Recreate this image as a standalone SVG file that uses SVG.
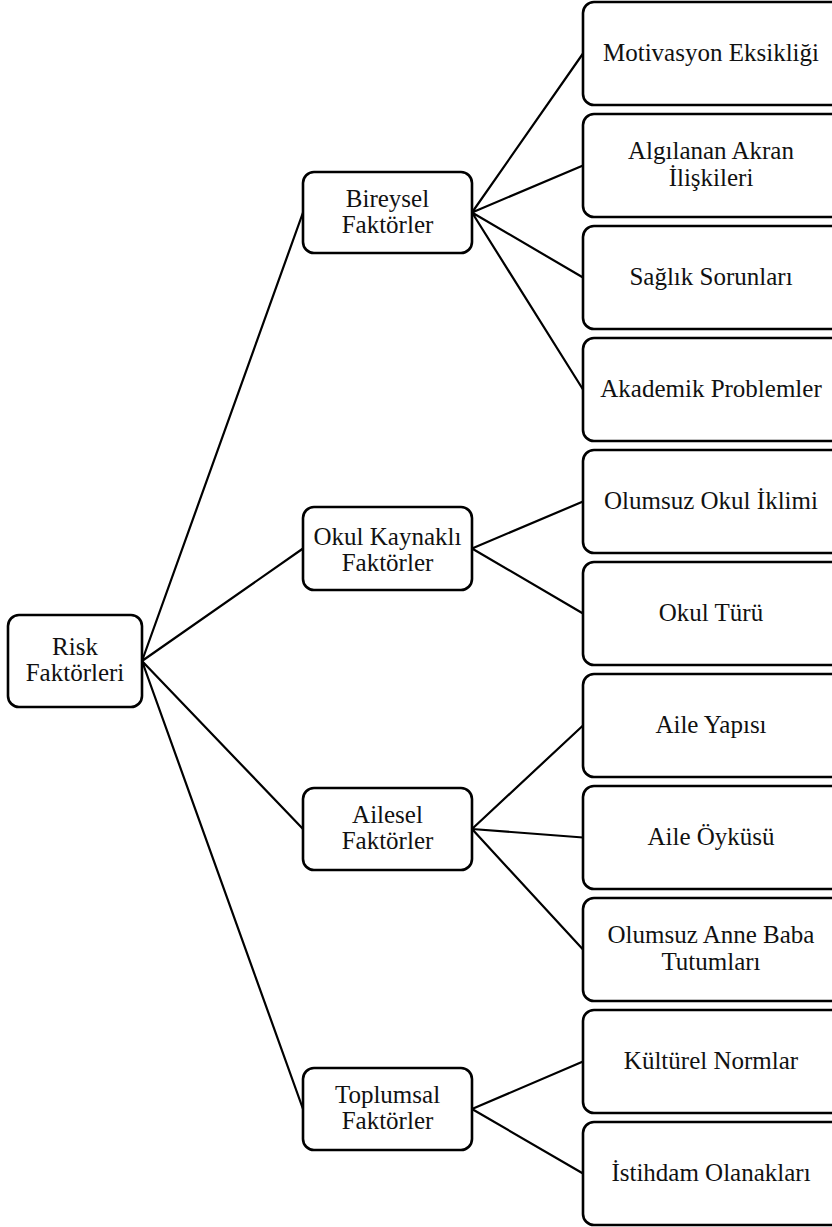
<svg xmlns="http://www.w3.org/2000/svg" width="832" height="1227" viewBox="0 0 832 1227">
<style>
.box{fill:#fff;stroke:#000;stroke-width:2.6}
.t{font-family:"Liberation Serif","Times New Roman",serif;font-size:25px;fill:#111;text-anchor:middle}
.c{stroke:#000;stroke-width:2.2;fill:none}
</style>
<rect width="832" height="1227" fill="#fff"/>
<g id="connectors">
<path class="c" d="M142 661L303 212.5M142 661L303 548.5M142 661L303 829M142 661L303 1109"/>
<path class="c" d="M472 212.5L583 53.5M472 212.5L583 165.5M472 212.5L583 277.5M472 212.5L583 389.5"/>
<path class="c" d="M472 548.5L583 501.5M472 548.5L583 613.5"/>
<path class="c" d="M472 829L583 725.5M472 829L583 837.5M472 829L583 949.5"/>
<path class="c" d="M472 1109L583 1061.5M472 1109L583 1173.5"/>
</g>
<g id="risk"><rect class="box" x="8" y="615" width="134" height="92" rx="11"/><text class="t" x="75" y="655">Risk</text><text class="t" x="75" y="681">Faktörleri</text></g>
<g id="bireysel"><rect class="box" x="303" y="172" width="169" height="81" rx="11"/><text class="t" x="387.5" y="207">Bireysel</text><text class="t" x="387.5" y="233">Faktörler</text></g>
<g id="okul"><rect class="box" x="303" y="507" width="169" height="83" rx="11"/><text class="t" x="387.5" y="545">Okul Kaynaklı</text><text class="t" x="387.5" y="571">Faktörler</text></g>
<g id="ailesel"><rect class="box" x="303" y="788" width="169" height="82" rx="11"/><text class="t" x="387.5" y="823">Ailesel</text><text class="t" x="387.5" y="849">Faktörler</text></g>
<g id="toplumsal"><rect class="box" x="303" y="1068" width="169" height="82" rx="11"/><text class="t" x="387.5" y="1103">Toplumsal</text><text class="t" x="387.5" y="1129">Faktörler</text></g>
<g id="motivasyon"><rect class="box" x="583" y="2" width="262" height="103" rx="11"/><text class="t" x="711" y="61">Motivasyon Eksikliği</text></g>
<g id="akran"><rect class="box" x="583" y="114" width="262" height="103" rx="11"/><text class="t" x="711" y="159">Algılanan Akran</text><text class="t" x="711" y="186">İlişkileri</text></g>
<g id="saglik"><rect class="box" x="583" y="226" width="262" height="103" rx="11"/><text class="t" x="711" y="285">Sağlık Sorunları</text></g>
<g id="akademik"><rect class="box" x="583" y="338" width="262" height="103" rx="11"/><text class="t" x="711" y="397">Akademik Problemler</text></g>
<g id="iklim"><rect class="box" x="583" y="450" width="262" height="103" rx="11"/><text class="t" x="711" y="509">Olumsuz Okul İklimi</text></g>
<g id="okulturu"><rect class="box" x="583" y="562" width="262" height="103" rx="11"/><text class="t" x="711" y="621">Okul Türü</text></g>
<g id="aileyapisi"><rect class="box" x="583" y="674" width="262" height="103" rx="11"/><text class="t" x="711" y="733">Aile Yapısı</text></g>
<g id="aileoykusu"><rect class="box" x="583" y="786" width="262" height="103" rx="11"/><text class="t" x="711" y="845">Aile Öyküsü</text></g>
<g id="annebaba"><rect class="box" x="583" y="898" width="262" height="103" rx="11"/><text class="t" x="711" y="943">Olumsuz Anne Baba</text><text class="t" x="711" y="970">Tutumları</text></g>
<g id="kulturel"><rect class="box" x="583" y="1010" width="262" height="103" rx="11"/><text class="t" x="711" y="1069">Kültürel Normlar</text></g>
<g id="istihdam"><rect class="box" x="583" y="1122" width="262" height="103" rx="11"/><text class="t" x="711" y="1181">İstihdam Olanakları</text></g>
</svg>
